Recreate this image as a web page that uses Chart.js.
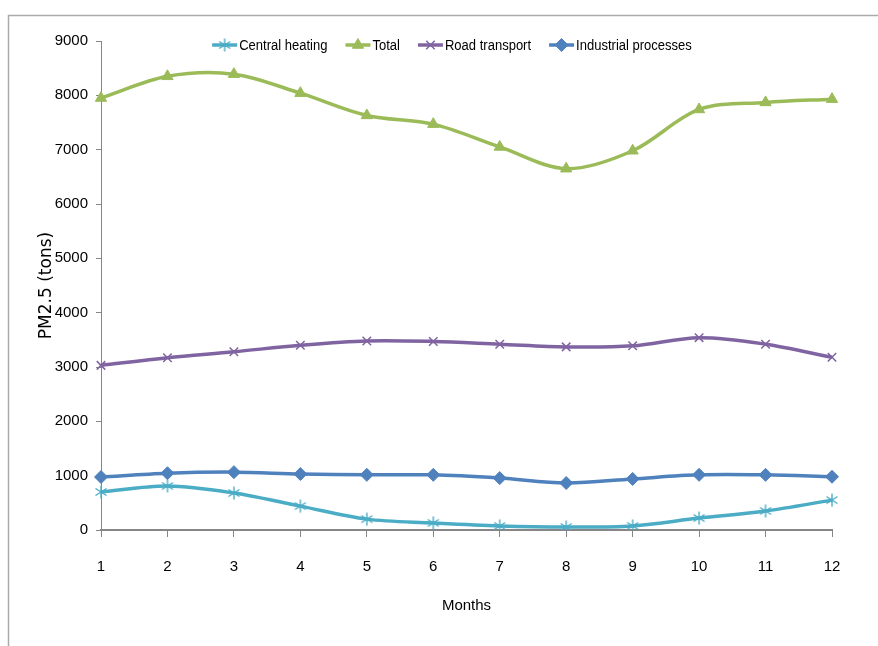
<!DOCTYPE html>
<html>
<head>
<meta charset="utf-8">
<script src="https://cdn.jsdelivr.net/npm/chart.js@4.4.1/dist/chart.umd.min.js"></script>
<style>
  html, body { margin: 0; padding: 0; background: #fff; }
  #wrap { width: 878px; height: 646px; position: relative; }
</style>
</head>
<body>
<div id="wrap"><canvas id="c" width="878" height="646"></canvas></div>
<script>
// Monthly PM2.5 emissions by source (tons)
const months = ['1', '2', '3', '4', '5', '6', '7', '8', '9', '10', '11', '12'];
const centralHeating = [700, 810, 680, 440, 200, 130, 75, 55, 75, 220, 350, 550];
const total = [7950, 8350, 8390, 8040, 7630, 7470, 7050, 6650, 6980, 7740, 7870, 7930];
const roadTransport = [3030, 3170, 3280, 3400, 3480, 3470, 3420, 3370, 3390, 3540, 3420, 3180];
const industrialProcesses = [975, 1045, 1065, 1030, 1015, 1015, 955, 865, 940, 1015, 1015, 980];
const yTicks = [0, 1000, 2000, 3000, 4000, 5000, 6000, 7000, 8000, 9000];

const SANS = '"Liberation Sans Narrow", "Liberation Sans", Arial, sans-serif';
const AXIS = '#868686';

const C_HEAT = '#4BACC6';
const C_TOTAL = '#9BBB59';
const C_ROAD = '#8064A2';
const C_IND = '#4F81BD';

// asterisk marker: vertical stroke plus two diagonals
function asterisk(color) {
  const cv = document.createElement('canvas');
  cv.width = 16; cv.height = 16;
  const g = cv.getContext('2d');
  g.strokeStyle = color;
  g.lineWidth = 1.4;
  g.beginPath();
  g.moveTo(8, 1.5); g.lineTo(8, 14.5);
  g.moveTo(2.5, 4.5); g.lineTo(13.5, 11.5);
  g.moveTo(13.5, 4.5); g.lineTo(2.5, 11.5);
  g.stroke();
  return cv;
}
const heatMarker = asterisk(C_HEAT);

function series(label, data, color, style, radius, bw) {
  return {
    label, data,
    borderColor: color,
    backgroundColor: color,
    borderWidth: 3.5,
    tension: 0.33,
    fill: false,
    pointStyle: style,
    pointRadius: radius,
    pointHoverRadius: radius,
    pointBorderWidth: bw,
    pointBackgroundColor: color,
    pointBorderColor: color
  };
}

const datasets = [
  series('Central heating', centralHeating, C_HEAT, heatMarker, 7, 1),
  series('Total', total, C_TOTAL, 'triangle', 6.5, 1),
  series('Road transport', roadTransport, C_ROAD, 'crossRot', 6, 1.5),
  series('Industrial processes', industrialProcesses, C_IND, 'rectRot', 6.5, 1)
];

function drawMarker(ctx, ds, x, y) {
  if (typeof ds.pointStyle !== 'string') {
    ctx.drawImage(ds.pointStyle, x - ds.pointStyle.width / 2, y - ds.pointStyle.height / 2);
    return;
  }
  ctx.save();
  ctx.fillStyle = ds.pointBackgroundColor;
  ctx.strokeStyle = ds.pointBorderColor;
  ctx.lineWidth = ds.pointBorderWidth;
  Chart.helpers.drawPoint(ctx, {
    pointStyle: ds.pointStyle, radius: ds.pointRadius, rotation: 0, borderWidth: ds.pointBorderWidth
  }, x, y);
  ctx.restore();
}

// frame around the figure and the legend row drawn over the plot top
const decor = {
  id: 'decor',
  beforeDraw(chart) {
    const ctx = chart.ctx;
    ctx.save();
    ctx.strokeStyle = '#AAAAAA';
    ctx.lineWidth = 1.5;
    ctx.beginPath();
    ctx.moveTo(8.5, 660);
    ctx.lineTo(8.5, 15.5);
    ctx.lineTo(880, 15.5);
    ctx.stroke();
    ctx.restore();
  },
  afterDraw(chart) {
    const ctx = chart.ctx;
    ctx.save();
    ctx.font = '14px ' + SANS;
    ctx.textBaseline = 'middle';
    const lineW = 25, gapText = 2, gapItem = 18;
    const squeeze = 0.93; // legend text is set a little condensed
    const sets = chart.data.datasets;
    const widths = sets.map(d => lineW + gapText + ctx.measureText(d.label).width * squeeze);
    const totalW = widths.reduce((a, b) => a + b, 0) + gapItem * (sets.length - 1);
    let x = 452 - totalW / 2;
    const y = 45;
    sets.forEach((d, i) => {
      ctx.strokeStyle = d.borderColor;
      ctx.lineWidth = 3.5;
      ctx.beginPath();
      ctx.moveTo(x, y); ctx.lineTo(x + lineW, y);
      ctx.stroke();
      drawMarker(ctx, d, x + lineW / 2, y);
      ctx.save();
      ctx.translate(x + lineW + gapText, y + 1);
      ctx.scale(squeeze, 1);
      ctx.fillStyle = '#000';
      ctx.fillText(d.label, 0, 0);
      ctx.restore();
      x += widths[i] + gapItem;
    });
    ctx.restore();
  }
};

new Chart(document.getElementById('c'), {
  type: 'line',
  data: { labels: months, datasets },
  plugins: [decor],
  options: {
    responsive: false,
    animation: false,
    events: [],
    layout: { padding: { top: 41, right: 46, left: 0, bottom: 0 } },
    plugins: { legend: { display: false }, tooltip: { enabled: false } },
    scales: {
      x: {
        type: 'category',
        offset: false,
        grid: { display: true, drawOnChartArea: false, drawTicks: true, tickLength: 7, color: AXIS, lineWidth: 1 },
        border: { display: true, color: AXIS, width: 2 },
        ticks: { padding: 21, color: '#000', maxRotation: 0, font: { family: SANS, size: 15 } },
        title: { display: true, text: 'Months', color: '#000', font: { family: SANS, size: 15 }, padding: { top: 0, bottom: 31 } },
        afterFit(s) { s.height = 116; }
      },
      y: {
        min: 0, max: 9000,
        afterBuildTicks(s) { s.ticks = yTicks.map(v => ({ value: v })); },
        grid: { display: true, drawOnChartArea: false, drawTicks: true, tickLength: 5, color: AXIS, lineWidth: 1 },
        border: { display: true, color: AXIS, width: 1 },
        ticks: { padding: 8, color: '#000', font: { family: SANS, size: 15 }, callback: v => String(v) },
        title: { display: true, text: 'PM2.5 (tons)', color: '#000', font: { family: '"DejaVu Sans", Verdana, sans-serif', size: 17 }, padding: { top: 36, bottom: 0 } },
        afterFit(s) { s.width = 101; }
      }
    }
  }
});
</script>
</body>
</html>
